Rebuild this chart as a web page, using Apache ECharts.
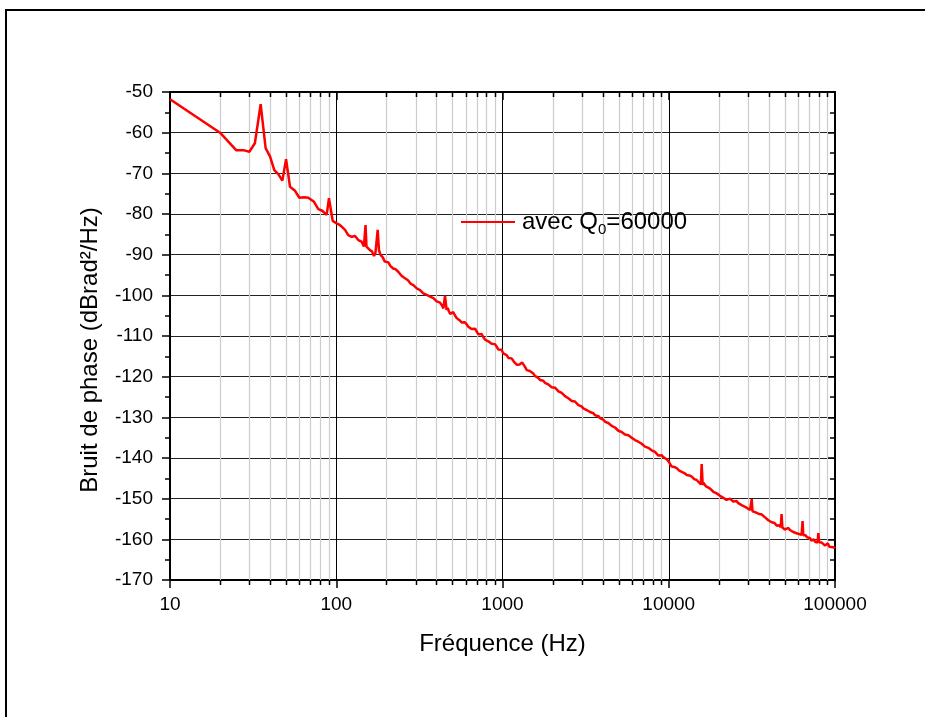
<!DOCTYPE html>
<html>
<head>
<meta charset="utf-8">
<script src="https://cdn.jsdelivr.net/npm/echarts@6/dist/echarts.min.js"></script>
<style>
html,body{margin:0;padding:0;background:#fff;}
#frame{position:absolute;left:5px;top:9px;width:930px;height:720px;border-left:2px solid #000;border-top:2px solid #000;}
#main{position:absolute;left:0;top:0;width:925px;height:717px;}
</style>
</head>
<body>
<div id="frame"></div>
<div id="main"></div>
<script>
// ---- data ----
const freqHz = [10,20,25,27.6,30,32.4,35.1,37.6,40,42.4,44.8,47.4,49.9,52.7,56.5,60,64,67.9,73.5,78,82.4,87.6,90.4,95.2,
100.6,104,107.8,113,118,121,124,129.7,135.7,142,146.7,150,152,159.5,164,168.7,172,175,177.5,180.7,185,190,196,205.7,212,220,228,236,247,259,270,281,291,305,319,334,350,367,384,402,421,434,441,451,461,468,476,485,494,505,517,530,542,551,561,570,581,594,608,622,637,652,668,684,700,716,733,750,767,785,803,822,841,860,880,900,922,943,965,988,
1011,1035,1059,1085,1110,1135,1161,1180,1200,1222,1245,1267,1290,1312,1334,1366,1399,1430,1460,1495,1532,1565,1600,1640,1681,1720,1760,1800,1843,1885,1930,1975,2022,2070,2120,2170,2218,2270,2320,2375,2432,2490,2550,2610,2668,2730,2800,2860,2926,2990,3060,3130,3210,3285,3360,3440,3520,3600,3690,3775,3860,3950,4050,4140,4234,4330,4430,4535,4643,4750,4860,4975,5090,5210,5330,5455,5582,5715,5850,5985,6123,6265,6410,6560,6714,6870,7030,7195,7364,7535,7710,7890,8076,8265,8460,8655,8857,9065,9280,9495,9717,9860,
10000,10200,10411,10600,10780,10970,11160,11360,11560,11760,11970,12180,12400,12610,12830,13060,13290,13520,13750,13990,14230,14480,14730,14920,15100,15260,15420,15600,15780,16000,16220,16450,16680,16910,17200,17500,17800,18120,18540,18970,19420,19870,20330,20800,21290,21780,22290,22800,23340,23890,24440,25000,25590,26190,26800,27430,28080,28740,29270,29800,30300,30830,31200,31560,31900,32280,33030,33800,34590,35400,36240,37100,37950,38820,39720,40650,41600,42570,43280,44000,44800,45610,46150,46700,47200,47700,48250,48850,50000,51200,52370,53570,54820,56100,57420,58750,59760,60800,61860,62950,63400,63830,64450,65100,66480,67900,69330,70800,72050,73300,74540,75800,76700,77600,78500,79400,80300,81300,83200,85100,87100,89100,90700,92300,93900,95500,96600,97700,98800,100000];
const noiseDb = [-51.8,-60.0,-64.3,-64.3,-64.7,-62.6,-53.0,-63.8,-65.9,-69.2,-70.2,-71.8,-66.5,-73.3,-74.3,-76.0,-75.9,-76.0,-77.0,-78.8,-79.2,-80.2,-76.1,-81.7,
-82.3,-82.6,-83.1,-83.9,-85.2,-84.9,-85.6,-85.4,-86.4,-86.8,-88.0,-82.7,-88.0,-88.9,-89.2,-90.3,-89.6,-89.7,-83.9,-88.9,-90.1,-90.6,-91.7,-91.9,-92.8,-93.4,-93.6,-94.2,-95.2,-95.8,-96.3,-97.2,-97.5,-98.3,-98.7,-99.5,-99.9,-100.3,-100.7,-101.5,-101.8,-102.6,-103.2,-100.1,-103.6,-103.1,-103.9,-104.6,-104.4,-104.1,-104.9,-105.6,-105.3,-106.1,-106.0,-106.7,-106.5,-106.6,-107.1,-107.7,-107.7,-108.3,-108.4,-108.2,-108.9,-109.6,-109.9,-109.5,-110.3,-110.9,-110.8,-111.3,-111.4,-111.9,-112.2,-112.0,-112.6,-113.3,-113.5,-113.4,
-114.3,-114.0,-114.7,-115.4,-115.3,-115.5,-115.9,-116.5,-116.6,-117.1,-117.5,-117.0,-116.9,-116.5,-116.7,-117.6,-118.4,-118.1,-118.6,-119.0,-119.2,-119.8,-120.1,-120.3,-120.8,-120.6,-121.0,-121.5,-121.6,-121.9,-122.3,-122.6,-122.9,-122.7,-123.1,-123.6,-123.7,-124.0,-124.4,-124.8,-124.9,-125.3,-125.6,-126.0,-126.2,-126.1,-126.5,-127.0,-127.0,-127.3,-127.8,-127.8,-128.2,-128.5,-128.7,-128.6,-129.0,-129.5,-129.8,-129.7,-130.2,-130.3,-130.6,-131.1,-131.1,-131.4,-131.8,-132.1,-132.3,-132.5,-132.9,-133.3,-133.5,-133.6,-133.8,-134.2,-134.3,-134.4,-134.7,-135.0,-135.1,-135.6,-135.9,-136.0,-136.4,-136.5,-136.7,-137.2,-137.2,-137.5,-137.9,-138.1,-138.4,-138.5,-138.8,-139.4,-139.6,-139.3,-139.8,-140.2,-140.3,-140.0,
-140.9,-141.5,-142.1,-141.8,-142.2,-142.6,-142.5,-142.9,-143.1,-143.0,-143.4,-143.6,-143.7,-144.1,-144.2,-144.0,-144.3,-144.7,-144.6,-145.0,-145.2,-145.1,-145.4,-145.8,-145.9,-145.7,-146.2,-146.5,-141.5,-146.6,-146.1,-146.5,-146.9,-147.0,-147.2,-147.5,-147.6,-147.9,-148.3,-148.6,-148.7,-149.1,-149.3,-149.6,-149.8,-150.1,-150.3,-150.4,-150.0,-150.3,-150.7,-150.8,-150.6,-151.1,-151.4,-151.6,-151.7,-152.0,-152.3,-152.4,-152.5,-152.8,-152.9,-150.1,-153.1,-153.2,-153.3,-153.6,-153.7,-154.0,-153.9,-154.3,-154.6,-154.8,-155.3,-155.6,-155.8,-156.1,-156.0,-156.4,-156.7,-156.9,-156.5,-156.7,-157.0,-153.8,-157.1,-157.3,-157.6,-157.4,-157.2,-157.7,-158.0,-158.2,-158.4,-158.5,-158.8,-158.7,-159.1,-158.9,-158.6,-155.5,-159.0,-159.3,-159.0,-159.5,-159.9,-159.7,-160.3,-160.2,-160.0,-160.6,-160.9,-160.5,-160.8,-158.5,-160.7,-161.1,-160.8,-161.2,-161.5,-161.4,-161.0,-161.8,-162.1,-161.9,-161.5,-162.3,-162.0,-162.2];
const minorFreqs = [20,30,40,50,60,70,80,90,200,300,400,500,600,700,800,900,2000,3000,4000,5000,6000,7000,8000,9000,20000,30000,40000,50000,60000,70000,80000,90000];
const xTickLabels = ['10','100','1000','10000','100000'];
const seriesName = 'avec Q0=60000';
const xTitle = 'Fréquence (Hz)';
const yTitle = 'Bruit de phase (dBrad²/Hz)';

const FONT = '"Liberation Sans", Arial, sans-serif';
const chart = echarts.init(document.getElementById('main'), null, {renderer:'canvas'});

const lineData = freqHz.map((f,i)=>[f, noiseDb[i]]);

const option = {
  animation:false,
  backgroundColor:'transparent',
  grid:{left:170,right:90,top:92,bottom:137,containLabel:false},
  legend:{
    left:461, top:210, padding:0,
    itemWidth:54, itemHeight:14, itemGap:6,
    data:[{name:seriesName, icon:'path://M0,6H54V8H0Z'}],
    formatter:()=> 'avec Q{sub|0}=60000',
    textStyle:{fontFamily:FONT,fontSize:24,color:'#000',padding:[0,0,0,2],
      rich:{sub:{fontFamily:FONT,fontSize:15,color:'#000',padding:[16,0,0,0]}}}
  },
  xAxis:[{
    type:'log', logBase:10, min:10, max:100000, position:'bottom',
    name:xTitle, nameLocation:'middle', nameGap:52,
    nameTextStyle:{fontFamily:FONT,fontSize:24,color:'#000'},
    axisLine:{show:true,lineStyle:{color:'#000',width:2}},
    axisTick:{show:true,inside:false,length:8,lineStyle:{color:'#000',width:1.5}},
    axisLabel:{fontFamily:FONT,fontSize:19,color:'#000',margin:15,
      formatter:(v)=>{const k=Math.round(Math.log10(v))-1; return xTickLabels[k]!==undefined?xTickLabels[k]:'';}},
    splitLine:{show:true,lineStyle:{color:'#000',width:1}},
    minorTick:{show:false}
  },{
    type:'log', logBase:10, min:10, max:100000, position:'top',
    axisLine:{show:true,lineStyle:{color:'#000',width:2}},
    axisTick:{show:true,inside:true,length:8,lineStyle:{color:'#000',width:1.5}},
    axisLabel:{show:false}, splitLine:{show:false}
  }],
  yAxis:[{
    type:'value', min:-170, max:-50, interval:10, position:'left',
    name:yTitle, nameLocation:'middle', nameGap:68, nameRotate:90,
    nameTextStyle:{fontFamily:FONT,fontSize:24,color:'#000',padding:[0,28,0,0]},
    axisLine:{show:true,lineStyle:{color:'#000',width:2}},
    axisTick:{show:true,inside:false,length:8,lineStyle:{color:'#000',width:1.5}},
    minorTick:{show:true,splitNumber:2,length:5,lineStyle:{color:'#000',width:1.5}},
    axisLabel:{fontFamily:FONT,fontSize:19,color:'#000',margin:17},
    splitLine:{show:true,lineStyle:{color:'#222',width:1}}
  },{
    type:'value', min:-170, max:-50, interval:10, position:'right',
    axisLine:{show:true,lineStyle:{color:'#000',width:2}},
    axisTick:{show:true,inside:true,length:8,lineStyle:{color:'#000',width:1.5}},
    minorTick:{show:true,splitNumber:2,length:5,lineStyle:{color:'#000',width:1.5}},
    axisLabel:{show:false}, splitLine:{show:false}
  }],
  series:[{
    type:'custom', name:'minorGrid', silent:true, clip:false, z:1,
    xAxisIndex:0, yAxisIndex:0,
    data:minorFreqs.map(f=>[f]),
    renderItem:(params, api)=>{
      const f = api.value(0);
      const pb = api.coord([f,-170]);
      const pt = api.coord([f,-50]);
      const x = Math.round(pb[0])+0.5;
      return {type:'group', children:[
        {type:'line', shape:{x1:x,y1:pt[1],x2:x,y2:pb[1]}, style:{stroke:'#cccccc',lineWidth:1.2}},
        {type:'line', shape:{x1:x,y1:pb[1],x2:x,y2:pb[1]+5}, style:{stroke:'#000',lineWidth:1.5}},
        {type:'line', shape:{x1:x,y1:pt[1],x2:x,y2:pt[1]+5}, style:{stroke:'#000',lineWidth:1.5}}
      ]};
    }
  },{
    type:'line', name:seriesName, data:lineData, xAxisIndex:0, yAxisIndex:0,
    showSymbol:false, symbol:'none', z:5,
    lineStyle:{color:'#ff0000',width:2.5}, itemStyle:{color:'#ff0000'}
  }]
};
chart.setOption(option);
</script>
</body>
</html>
